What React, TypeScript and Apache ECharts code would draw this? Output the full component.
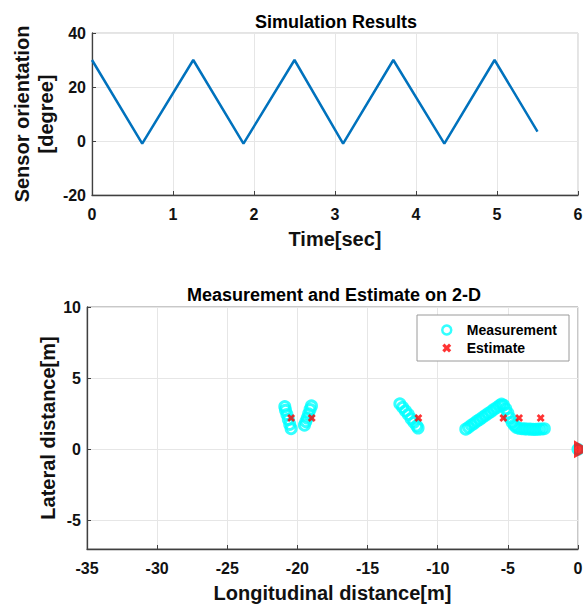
import React, { useEffect, useRef } from "react";
import * as echarts from "echarts";

const timeSec = [0, 0.62, 1.25, 1.87, 2.5, 3.1, 3.72, 4.35, 4.97, 5.5];
const orientationDeg = [30, -1, 30, -1, 30, -1, 30, -1, 30, 3.5];

const timeTicks = [0, 1, 2, 3, 4, 5, 6];
const orientationTicks = [-20, 0, 20, 40];

const measurementX = [
  -20.9, -20.85, -20.75, -20.65, -20.55, -20.45,
  -19.0, -19.1, -19.2, -19.3, -19.4, -19.5,
  -12.7, -12.5, -12.3, -12.1, -11.9, -11.7, -11.5, -11.4,
  -8.0, -7.8, -7.6, -7.4, -7.2, -7.0, -6.8, -6.6, -6.4, -6.2, -6.0, -5.8, -5.6, -5.45,
  -5.3, -5.15, -5.0, -4.85, -4.7, -4.55, -4.4, -4.2,
  -4.0, -3.8, -3.6, -3.4, -3.2, -3.0, -2.8, -2.6, -2.4,
  0.0,
];
const measurementY = [
  3.0, 2.75, 2.45, 2.1, 1.75, 1.45,
  3.05, 2.8, 2.5, 2.2, 1.95, 1.7,
  3.2, 2.95, 2.7, 2.45, 2.15, 1.9, 1.65, 1.5,
  1.42, 1.55, 1.7, 1.83, 1.98, 2.1, 2.25, 2.38, 2.52, 2.65, 2.8, 2.93, 3.07, 3.18,
  3.1, 2.85, 2.55, 2.2, 1.9, 1.7, 1.55, 1.48,
  1.45, 1.44, 1.43, 1.42, 1.4, 1.4, 1.42, 1.43, 1.45,
  0.0,
];

const estimateX = [-20.45, -18.98, -11.38, -5.32, -4.2, -2.66];
const estimateY = [2.2, 2.2, 2.2, 2.2, 2.2, 2.2];

const sensorX = [0];
const sensorY = [0];

const FONT = "'Liberation Sans', Arial, sans-serif";
const XMARK = "path://M0,2.5L2.5,0L5,2.5L7.5,0L10,2.5L7.5,5L10,7.5L7.5,10L5,7.5L2.5,10L0,7.5L2.5,5Z";

export default function App() {
  const ref = useRef<HTMLDivElement>(null);

  useEffect(() => {
    if (!ref.current) return;
    const chart = echarts.init(ref.current, undefined, { renderer: "svg" });

    const axisLine = { show: true, onZero: false, lineStyle: { color: "#404040", width: 1.3 } };
    const axisTick = { show: true, inside: true, length: 4, lineStyle: { color: "#404040" } };
    const splitLine = { show: true, lineStyle: { color: "#e6e6e6", width: 1 } };
    const labelStyle = { color: "#111", fontFamily: FONT, fontWeight: "bold" as const, fontSize: 16 };
    const nameStyle = { color: "#111", fontFamily: FONT, fontWeight: "bold" as const, fontSize: 20 };

    const option: any = {
      animation: false,
      backgroundColor: "#ffffff",
      title: [
        {
          text: "Simulation Results",
          left: 331,
          top: 8,
          textAlign: "center",
          textStyle: { color: "#000", fontFamily: FONT, fontWeight: "bold", fontSize: 18 },
        },
        {
          text: "Measurement and Estimate on 2-D",
          left: 329,
          top: 281,
          textAlign: "center",
          textStyle: { color: "#000", fontFamily: FONT, fontWeight: "bold", fontSize: 18 },
        },
      ],
      legend: {
        data: [
          {
            name: "Measurement",
            icon: "circle",
            itemStyle: { color: "#ffffff", borderColor: "#00ffff", borderWidth: 2.5 },
          },
          { name: "Estimate", icon: XMARK, itemStyle: { color: "#ff0000" } },
        ],
        orient: "vertical",
        left: 417,
        top: 315,
        padding: [8, 12, 6, 24],
        itemWidth: 30,
        itemHeight: 9,
        itemGap: 4,
        backgroundColor: "#ffffff",
        borderColor: "#9a9a9a",
        borderWidth: 1,
        textStyle: { color: "#000", fontFamily: FONT, fontWeight: "bold", fontSize: 14 },
      },
      grid: [
        { left: 92, top: 33, width: 486, height: 162, show: true, borderColor: "#c8c8c8", borderWidth: 1, backgroundColor: "transparent", outerBoundsMode: "none", containLabel: false },
        { left: 87, top: 307, width: 491, height: 242, show: true, borderColor: "#909090", borderWidth: 1, backgroundColor: "transparent", outerBoundsMode: "none", containLabel: false },
      ],
      xAxis: [
        {
          type: "value",
          gridIndex: 0,
          min: timeTicks[0],
          max: timeTicks[timeTicks.length - 1],
          interval: 1,
          axisLine,
          axisTick,
          splitLine,
          axisLabel: { ...labelStyle, margin: 11 },
          name: "Time[sec]",
          nameLocation: "middle",
          nameGap: 34,
          nameTextStyle: nameStyle,
        },
        {
          type: "value",
          gridIndex: 1,
          min: -35,
          max: 0,
          interval: 5,
          axisLine,
          axisTick,
          splitLine,
          axisLabel: { ...labelStyle, margin: 11 },
          name: "Longitudinal distance[m]",
          nameLocation: "middle",
          nameGap: 34,
          nameTextStyle: nameStyle,
        },
      ],
      yAxis: [
        {
          type: "value",
          gridIndex: 0,
          min: orientationTicks[0],
          max: orientationTicks[orientationTicks.length - 1],
          interval: 20,
          axisLine,
          axisTick,
          splitLine,
          axisLabel: { ...labelStyle, margin: 6 },
          name: "Sensor orientation\n[degree]",
          nameLocation: "middle",
          nameGap: 34,
          nameMoveOverlap: false,
          nameTextStyle: { ...nameStyle, lineHeight: 24 },
        },
        {
          type: "value",
          gridIndex: 1,
          min: -7,
          max: 10,
          splitNumber: 3,
          axisLine,
          axisTick,
          splitLine,
          axisLabel: {
            ...labelStyle,
            margin: 6,
            formatter: (v: number) => (Math.abs(v % 5) < 1e-9 ? String(v) : ""),
          },
          name: "Lateral distance[m]",
          nameLocation: "middle",
          nameGap: 29,
          nameMoveOverlap: false,
          nameTextStyle: nameStyle,
        },
      ],
      series: [
        {
          type: "line",
          xAxisIndex: 0,
          yAxisIndex: 0,
          data: timeSec.map((t, i) => [t, orientationDeg[i]]),
          showSymbol: false,
          lineStyle: { color: "#0072BD", width: 2.5 },
          itemStyle: { color: "#0072BD" },
        },
        {
          name: "Measurement",
          type: "scatter",
          xAxisIndex: 1,
          yAxisIndex: 1,
          data: measurementX.map((x, i) => [x, measurementY[i]]),
          symbol: "circle",
          symbolSize: 10,
          clip: false,
          itemStyle: { color: "rgba(0,0,0,0)", borderColor: "#00ffff", borderWidth: 3 },
        },
        {
          name: "Estimate",
          type: "scatter",
          xAxisIndex: 1,
          yAxisIndex: 1,
          data: estimateX.map((x, i) => [x, estimateY[i]]),
          symbol: XMARK,
          symbolSize: 8,
          itemStyle: { color: "#ff0000" },
        },
        {
          name: "Sensor",
          type: "scatter",
          xAxisIndex: 1,
          yAxisIndex: 1,
          data: sensorX.map((x, i) => [x, sensorY[i]]),
          symbol: "triangle",
          symbolSize: [18, 16],
          symbolRotate: -90,
          symbolOffset: [4, 0],
          clip: false,
          itemStyle: { color: "#ff0000" },
        },
      ],
    };

    chart.setOption(option);
    return () => chart.dispose();
  }, []);

  return (
    <div
      ref={ref}
      style={{ position: "fixed", left: 0, top: 0, width: 583, height: 605, background: "#fff" }}
    />
  );
}
